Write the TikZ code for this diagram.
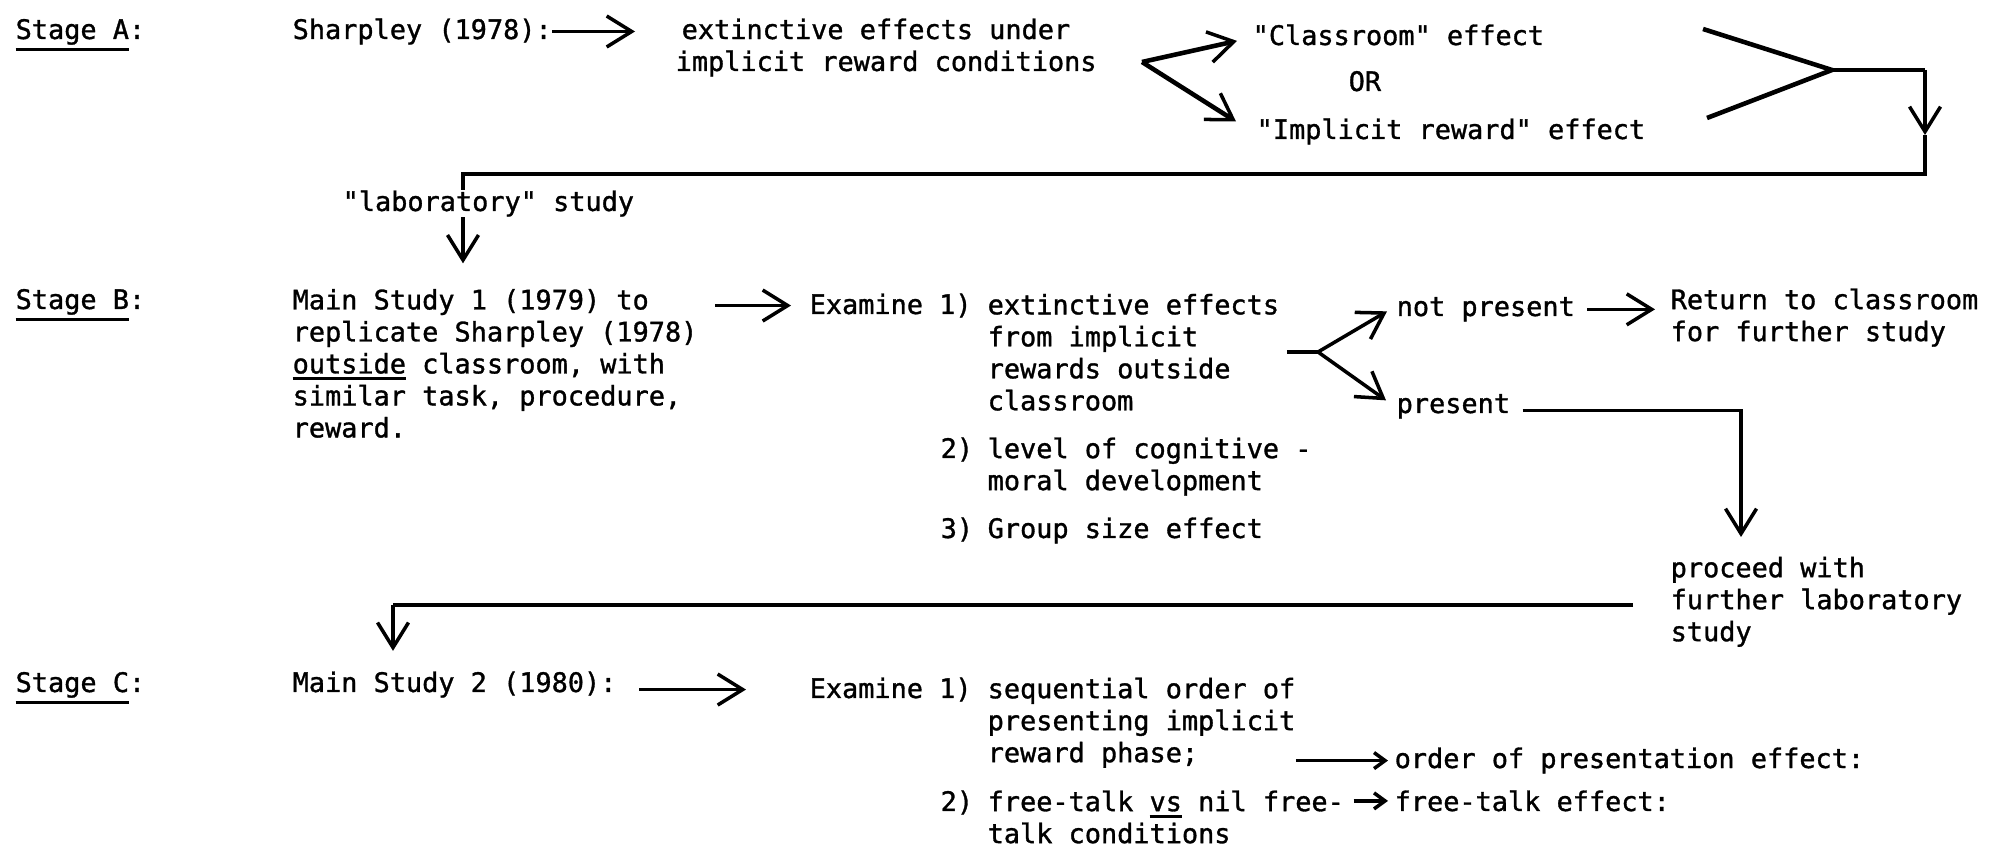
\documentclass[tikz,border=0pt]{standalone}
\usepackage{fontspec}
\setmonofont[FakeBold=1.2]{DejaVu Sans Mono}
\usetikzlibrary{arrows.meta,calc}

\newcommand{\ulx}[1]{\vtop{\hbox{#1}\kern1pt\hrule height0.8pt}}

\begin{document}
\begin{tikzpicture}[
        txt/.style={anchor=base west, inner sep=0pt, align=left, yshift=-0.3mm, font=\ttfamily\fontsize{7.65}{9.1}\selectfont},
        arr/.style={line width=1pt, -{Straight Barb[length=2.5mm,width=3.1mm,line width=1pt]}},
        sarr/.style={line width=1pt, -{Straight Barb[length=1.1mm,width=1.6mm,line width=1pt]}},
        bar/.style={line width=1.3pt}
    ]
        \useasboundingbox (0,0) rectangle (20.04,8.46);

        % Stage A
        \node[txt] (stA) at (0.15,8.10) {\ulx{Stage A}:};
        \node[txt] (sharp) at (2.92,8.10) {Sharpley (1978):};
        \node[txt] (extA) at (6.75,7.78) {\hspace*{0.06cm}extinctive effects under\\implicit reward conditions};
        \node[txt] (classr) at (12.52,8.04) {"Classroom" effect};
        \node[txt] (orA) at (13.48,7.58) {OR};
        \node[txt] (implr) at (12.56,7.10) {"Implicit reward" effect};
        \node[txt] (lab) at (3.42,6.38) {"laboratory" study};

        \coordinate (fA) at (11.42,7.84);
        \coordinate (m1) at (17.03,8.17);
        \coordinate (m2) at (17.07,7.28);
        \coordinate (mA) at (18.32,7.76);
        \coordinate (cA) at (19.25,7.76);
        \coordinate (yA) at (19.25,7.11);
        \coordinate (bA) at (4.63,6.72);

        \draw[arr] (sharp.east) -- ($(sharp.east -| extA.west)+(-0.4,0)$);
        \draw[arr, line width=1.3pt] (fA) -- ($(classr.west)+(-0.15,-0.06)$);
        \draw[arr, line width=1.3pt] (fA) -- ($(implr.west)+(-0.2,0.1)$);
        \draw[bar] (m1) -- (mA) -- (m2);
        \draw[bar] (mA) -- (cA);
        \draw[arr] (cA) -- (yA);
        \draw[bar] (yA) |- (bA) -- (bA |- lab.north);

        % Stage B
        \node[txt] (stB) at (0.15,5.40) {\ulx{Stage B}:};
        \node[txt] (ms1) at (2.92,4.116) {Main Study 1 (1979) to\\replicate Sharpley (1978)\\\ulx{outside} classroom, with\\similar task, procedure,\\reward.};
        \node[txt] (exB) at (8.09,5.35) {Examine 1)};
        \node[txt] (b1) at (9.87,4.387) {extinctive effects\\from implicit\\rewards outside\\classroom};
        \node[txt] (b2n) at (9.40,3.91) {2)};
        \node[txt] (b2) at (9.87,3.589) {level of cognitive -\\moral development};
        \node[txt] (b3n) at (9.40,3.11) {3)};
        \node[txt] (b3) at (9.87,3.11) {Group size effect};
        \node[txt] (notp) at (13.96,5.33) {not present};
        \node[txt] (ret) at (16.70,5.079) {Return to classroom\\for further study};
        \node[txt] (pres) at (13.96,4.36) {present};
        \node[txt] (proc) at (16.70,2.078) {proceed with\\further laboratory\\study};

        \coordinate (fB) at (13.18,4.94);
        \coordinate (pB) at (17.41,3.09);
        \coordinate (rC) at (3.93,2.41);

        \draw[arr] (bA |- lab.south) -- ($(bA |- ms1.north)+(0,0.25)$);
        \draw[arr] ($(exB.west -| ms1.east)+(0.17,0)$) -- ($(exB.west)+(-0.18,0)$);
        \draw[line width=1pt] ($(fB -| b1.east)+(0.07,0)$) -- (fB);
        \draw[arr] (fB) -- ($(notp.west)+(-0.09,-0.02)$);
        \draw[arr] (fB) -- ($(pres.west)+(-0.1,0.06)$);
        \draw[arr] ($(notp.east)+(0.12,0)$) -- ($(notp.east -| ret.west)+(-0.15,0)$);
        \draw[arr] ($(pres.east)+(0.12,-0.04)$) -| (pB);

        % Stage C
        \node[txt] (stC) at (0.15,1.57) {\ulx{Stage C}:};
        \node[txt] (ms2) at (2.92,1.57) {Main Study 2 (1980):};
        \node[txt] (exC) at (8.09,1.51) {Examine 1)};
        \node[txt] (c1) at (9.87,0.868) {sequential order of\\presenting implicit\\reward phase;};
        \node[txt] (c2n) at (9.40,0.38) {2)};
        \node[txt] (c2) at (9.87,0.059) {free-talk \ulx{vs} nil free-\\talk conditions};
        \node[txt] (ordeff) at (13.94,0.81) {order of presentation effect:};
        \node[txt] (fteff) at (13.94,0.38) {free-talk effect:};

        \draw[bar] ($(rC -| proc.west)+(-0.37,0)$) -- (rC);
        \draw[arr] (rC) -- ($(rC |- ms2.north)+(0,0.2)$);
        \draw[arr] ($(exC.west -| ms2.east)+(0.22,0)$) -- ($(exC.west)+(-0.63,0)$);
        \draw[sarr] (ordeff.west -| c1.east) -- ($(ordeff.west)+(-0.06,0)$);
        \draw[sarr] ($(fteff.west -| c2.east)+(0.09,0)$) -- ($(fteff.west)+(-0.06,0)$);
    \end{tikzpicture}
\end{document}
